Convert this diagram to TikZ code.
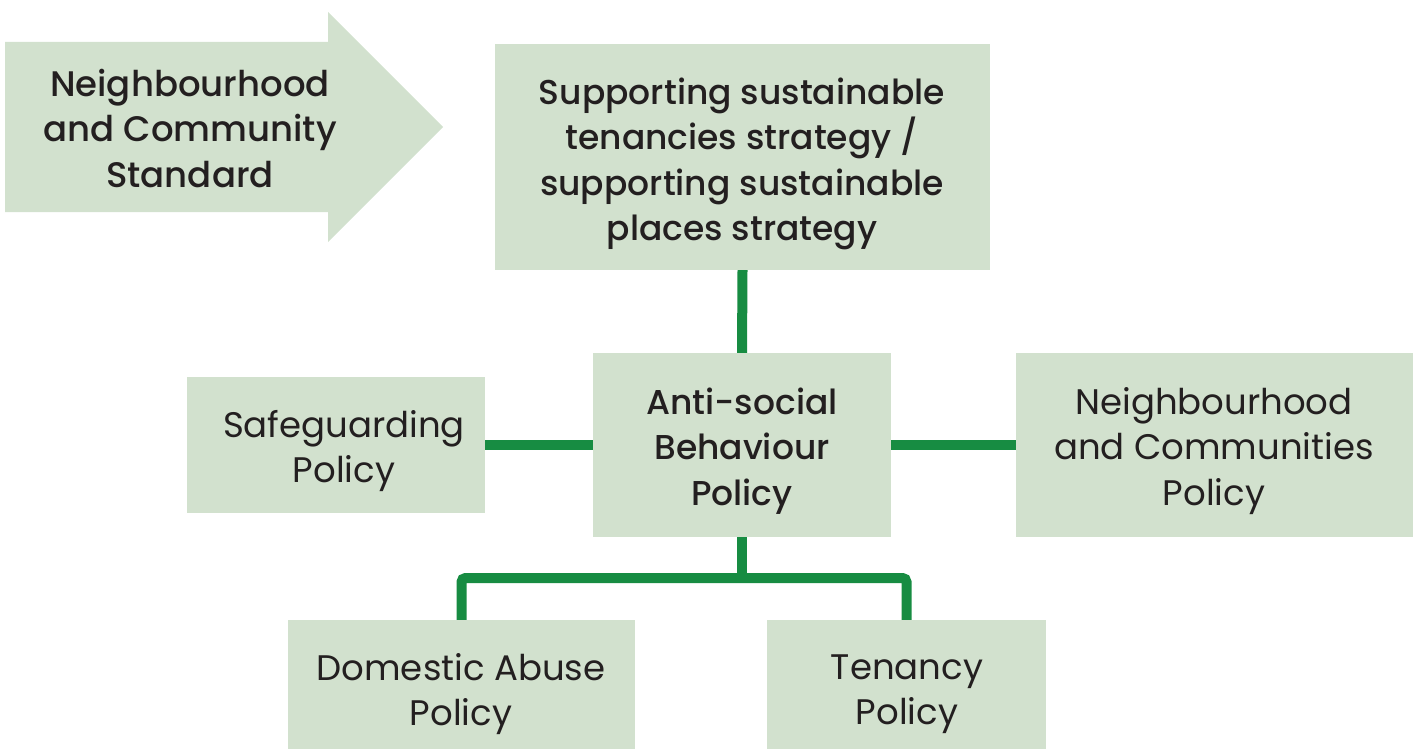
\documentclass[tikz,border=0pt]{standalone}
\usepackage{fontspec}
\setmainfont{Poppins}[BoldFont=Poppins Medium]
\definecolor{boxfill}{HTML}{D2E1CE}
\definecolor{linegreen}{HTML}{178C42}
\definecolor{txt}{HTML}{231F20}
\begin{document}
\begin{tikzpicture}[x=1pt,y=-1pt,
  box/.style={fill=boxfill, inner sep=0pt},
  rtext/.style={text=txt, align=center, font=\fontsize{35.5}{45.5}\selectfont},
  btext/.style={text=txt, align=center, font=\fontsize{34.5}{45.5}\selectfont\bfseries},
  conn/.style={draw=linegreen, line width=10pt, rounded corners=4pt}]
\useasboundingbox (0,0) rectangle (1416,749);
\fill[boxfill] (5,42) -- (328,42) -- (328,12) -- (443,127) -- (328,242) -- (328,212) -- (5,212) -- cycle;
\node[btext, font=\fontsize{35.5}{45.5}\selectfont\bfseries] (std) at (190,128) {Neighbourhood\\and Community\\Standard};
\node[box, minimum width=495pt, minimum height=226pt] (top) at (742.5,157) {};
\node[btext] (topt) at (742,164) {Supporting sustainable\\tenancies strategy /\\supporting sustainable\\places strategy};
\node[box, minimum width=298pt, minimum height=184pt] (asb) at (742,445) {};
\node[btext] (asbt) at (742,451) {Anti-social\\Behaviour\\Policy};
\node[box, minimum width=298pt, minimum height=136pt] (safe) at (336,445) {};
\node[rtext] (safet) at (344,451) {Safeguarding\\Policy};
\node[box, minimum width=397pt, minimum height=184pt] (nc) at (1214.5,445) {};
\node[rtext] (nct) at (1214,451) {Neighbourhood\\and Communities\\Policy};
\node[box, minimum width=347pt, minimum height=129pt] (dom) at (461.5,684.5) {};
\node[rtext] (domt) at (461,694) {Domestic Abuse\\Policy};
\node[box, minimum width=279pt, minimum height=129pt] (ten) at (906.5,684.5) {};
\node[rtext] (tent) at (907,694) {Tenancy\\Policy};
\coordinate (j) at (742,578);
\draw[conn] (top.south) -- (asb.north);
\draw[conn] (safe.east) -- (asb.west);
\draw[conn] (asb.east) -- (nc.west);
\draw[conn] (asb.south) -- (j);
\draw[conn] (dom.north) |- (j) -| (ten.north);
\end{tikzpicture}
\end{document}
